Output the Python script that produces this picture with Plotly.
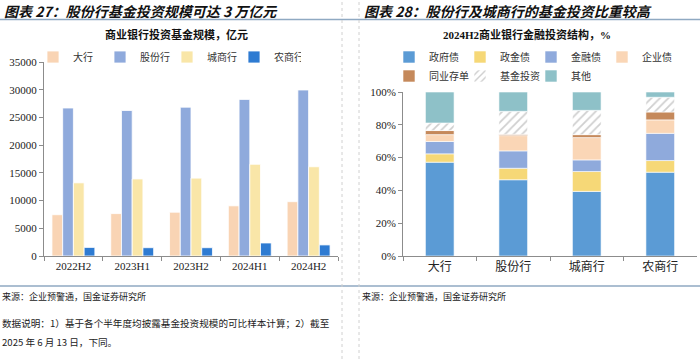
import plotly.graph_objects as go
import numpy as np

# ---------------- data ----------------
periods = ["2022H2", "2023H1", "2023H2", "2024H1", "2024H2"]
fund_big = [7450, 7650, 7900, 9050, 9800]        # 大行
fund_joint = [26700, 26250, 26850, 28250, 29950]  # 股份行
fund_city = [13200, 13900, 14050, 16550, 16100]   # 城商行
fund_rural = [1550, 1500, 1500, 2350, 2000]       # 农商行

groups = ["大行", "股份行", "城商行", "农商行"]
gov = [57.2, 46.5, 39.4, 51.1]        # 政府债
policy = [5.1, 7.0, 12.1, 7.1]        # 政金债
financial = [7.5, 10.6, 7.1, 16.6]    # 金融债
corporate = [4.2, 9.3, 13.6, 8.2]     # 企业债
ncd = [2.5, 0.8, 1.8, 4.8]            # 同业存单
fund_inv = [4.6, 14.0, 14.8, 9.0]     # 基金投资
other = [18.9, 11.8, 11.2, 3.2]       # 其他

W, H = 700, 359


def px(x):
    return x / W


def py(y):
    return (H - y) / H


SANS = "Noto Sans CJK SC"
SERIF = "Liberation Serif, Noto Sans CJK SC"

fig = go.Figure()

# ---------------- left chart ----------------
left_series = [
    ("大行", fund_big, "#F9D4B4"),
    ("股份行", fund_joint, "#8FAADC"),
    ("城商行", fund_city, "#F9E6A8"),
    ("农商行", fund_rural, "#2E7BD2"),
]
for name, vals, col in left_series:
    fig.add_trace(go.Bar(
        x=periods, y=vals, name=name, marker_color=col,
        marker_line=dict(color="white", width=0.8),
        xaxis="x", yaxis="y", legend="legend", hoverinfo="skip",
    ))

# ---------------- right chart ----------------
right_series = [
    ("政府债", gov, "#5B9BD5", None, "legend2"),
    ("政金债", policy, "#F6D877", None, "legend2"),
    ("金融债", financial, "#8FAADC", None, "legend2"),
    ("企业债", corporate, "#FAD6B6", None, "legend2"),
    ("同业存单", ncd, "#C5895B", None, "legend3"),
    ("基金投资", fund_inv, "white", "/", "legend3"),
    ("其他", other, "#8EC1C8", None, "legend3"),
]
base = np.zeros(len(groups))
for name, vals, col, pat, leg in right_series:
    marker = dict(color=col, line=dict(color="white", width=0.6))
    if pat:
        marker["pattern"] = dict(shape=pat, fgcolor="#A0A0A0", bgcolor="white",
                                 size=6, solidity=0.3)
    fig.add_trace(go.Bar(
        x=groups, y=vals, base=base.copy(), name=name, marker=marker,
        offsetgroup="s", width=0.39, offset=-0.195,
        xaxis="x2", yaxis="y2", legend=leg, hoverinfo="skip",
    ))
    base = base + np.array(vals)

axis_col = "#8C8C8C"
LEGFONT = dict(family=SANS, size=10, color="#333")
fig.update_layout(
    width=W, height=H,
    margin=dict(l=0, r=0, t=0, b=0, autoexpand=False),
    paper_bgcolor="white", plot_bgcolor="white",
    barmode="group", bargap=0.27, bargroupgap=0,
    showlegend=True,
    xaxis=dict(domain=[px(44), px(338)], anchor="y", type="category",
               showline=True, linecolor=axis_col, linewidth=1,
               ticks="outside", tickson="boundaries", ticklen=4, tickcolor=axis_col,
               tickfont=dict(family=SERIF, size=11, color="#222"),
               showgrid=False, zeroline=False, fixedrange=True, automargin=False),
    yaxis=dict(domain=[py(256), py(62)], anchor="x", range=[0, 35000], dtick=5000,
               tickformat="d",
               showline=True, linecolor=axis_col, linewidth=1,
               ticks="outside", ticklen=4, tickcolor=axis_col,
               tickfont=dict(family=SERIF, size=11, color="#222"),
               showgrid=False, zeroline=False, fixedrange=True, automargin=False),
    xaxis2=dict(domain=[px(403), px(697)], anchor="y2", type="category",
                showline=True, linecolor=axis_col, linewidth=1,
                ticks="outside", tickson="boundaries", ticklen=4, tickcolor=axis_col,
                tickfont=dict(family=SANS, size=12, color="#222"),
                showgrid=False, zeroline=False, fixedrange=True, automargin=False),
    yaxis2=dict(domain=[py(256), py(92)], anchor="x2", range=[0, 100], dtick=20,
                ticksuffix="%",
                showline=True, linecolor=axis_col, linewidth=1,
                ticks="outside", ticklen=4, tickcolor=axis_col,
                tickfont=dict(family=SERIF, size=11, color="#222"),
                showgrid=False, zeroline=False, fixedrange=True, automargin=False),
    legend=dict(orientation="h", x=px(33), y=py(57), xanchor="left", yanchor="middle",
                entrywidth=22,
                font=LEGFONT, itemclick=False,
                bgcolor="rgba(0,0,0,0)", tracegroupgap=0),
    legend2=dict(orientation="h", x=px(389), y=py(57), xanchor="left", yanchor="middle",
                 entrywidth=26,
                 font=LEGFONT, itemclick=False,
                 bgcolor="rgba(0,0,0,0)"),
    legend3=dict(orientation="h", x=px(389), y=py(76), xanchor="left", yanchor="middle",
                 entrywidth=26,
                 font=LEGFONT, itemclick=False,
                 bgcolor="rgba(0,0,0,0)"),
)

line_col = "#8FA9C2"
shapes = [
    dict(type="line", xref="paper", yref="paper", x0=0, x1=1, y0=py(19.5), y1=py(19.5),
         line=dict(color=line_col, width=1.6)),
    dict(type="line", xref="paper", yref="paper", x0=0, x1=1, y0=py(286), y1=py(286),
         line=dict(color=line_col, width=1.6)),
    dict(type="line", xref="paper", yref="paper", x0=px(342), x1=px(342), y0=0, y1=1,
         line=dict(color="#D0D0D0", width=1, dash="dot")),
    dict(type="line", xref="paper", yref="paper", x0=px(359), x1=px(359), y0=0, y1=1,
         line=dict(color="#D0D0D0", width=1, dash="dot")),
]
fig.update_layout(shapes=shapes)

ann = [
    dict(text="图表 27：股份行基金投资规模可达 3 万亿元", x=px(2), y=py(11), xanchor="left",
         font=dict(family=SANS, size=14, color="#111", weight="bold", style="italic")),
    dict(text="图表 28：股份行及城商行的基金投资比重较高", x=px(362), y=py(11), xanchor="left",
         font=dict(family=SANS, size=14, color="#111", weight="bold", style="italic")),
    dict(text="商业银行投资基金规模，亿元", x=px(177), y=py(34), xanchor="center",
         font=dict(family=SANS, size=11, color="#111", weight="bold")),
    dict(text="2024H2商业银行金融投资结构，%", x=px(527), y=py(34), xanchor="center",
         font=dict(family=SERIF, size=11, color="#111", weight="bold")),
    dict(text="来源：企业预警通，国金证券研究所", x=px(0), y=py(296), xanchor="left",
         font=dict(family=SANS, size=9, color="#222")),
    dict(text="来源：企业预警通，国金证券研究所", x=px(360), y=py(296), xanchor="left",
         font=dict(family=SANS, size=9, color="#222")),
    dict(text="数据说明：1）基于各个半年度均披露基金投资规模的可比样本计算；2）截至",
         x=px(0), y=py(323), xanchor="left",
         font=dict(family=SANS, size=9.6, color="#222")),
    dict(text="2025 年 6 月 13 日，下同。", x=px(0), y=py(342), xanchor="left",
         font=dict(family=SANS, size=9.6, color="#222")),
]
for a in ann:
    a.update(xref="paper", yref="paper", yanchor="middle", showarrow=False)
fig.update_layout(annotations=ann)

fig.write_html(
    "out.html",
    config={"displayModeBar": False, "staticPlot": True},
    post_script="document.body.style.margin='0';document.body.style.overflow='hidden';",
)
